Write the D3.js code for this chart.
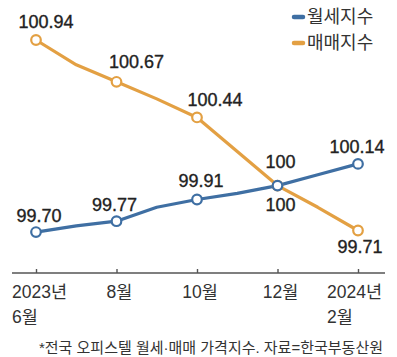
<!DOCTYPE html>
<html><head><meta charset="utf-8">
<script src="https://cdn.jsdelivr.net/npm/d3@7"></script>
<style>
body{margin:0;background:#fff;}
svg{display:block;}
text{font-family:"Liberation Sans","Noto Sans CJK KR",sans-serif;}
</style></head>
<body>
<svg id="c" width="397" height="357"></svg>
<script>
// ---- data ----
const months = ["2023-06","2023-07","2023-08","2023-09","2023-10","2023-11","2023-12","2024-01","2024-02"];
const rentIndex = [99.70, 99.74, 99.77, 99.86, 99.91, 99.95, 100.00, 100.07, 100.14];
const saleIndex = [100.94, 100.78, 100.67, 100.56, 100.44, 100.22, 100.00, 99.86, 99.71];
const seriesNames = ["월세지수", "매매지수"];
const tickMonths = ["2023-06","2023-08","2023-10","2023-12","2024-02"];
const tickLine1 = ["2023년","8월","10월","12월","2024년"];
const tickLine2 = ["6월","","","","2월"];
const rentLabels = ["99.70","99.77","99.91","100","100.14"];
const saleLabels = ["100.94","100.67","100.44","100","99.71"];
const note = "*전국 오피스텔 월세·매매 가격지수. 자료=한국부동산원";

// ---- layout ----
const colors = ["#3f6fa3", "#e3a043"];
const svg = d3.select("#c");
const x = d3.scalePoint().domain(months).range([36, 358]);
const y = d3.scaleLinear().domain([99.71, 100.94]).range([230.5, 40]);
const labelFont = "18px";
// label offsets (dx, dy) for each marked point
const rentOff = [[3,-16],[-2,-16],[4,-19],[3,-24],[-1,-17]];
const saleOff = [[10,-18],[20,-20],[18,-17],[3,19],[2,16]];

const line = d3.line().x((d,i)=>x(months[i])).y(d=>y(d));
const series = [rentIndex, saleIndex];
const labelsAll = [rentLabels, saleLabels];
const offAll = [rentOff, saleOff];

// draw orange first then blue on top? Reference: blue appears over orange at crossing
[1,0].forEach(s=>{
  svg.append("path").datum(series[s]).attr("d", line)
    .attr("fill","none").attr("stroke",colors[s]).attr("stroke-width",3.2)
    .attr("stroke-linejoin","round").attr("stroke-linecap","round");
});
[1,0].forEach(s=>{
  tickMonths.forEach((m,k)=>{
    const i = months.indexOf(m);
    svg.append("circle").attr("cx",x(m)).attr("cy",y(series[s][i])).attr("r",4.8)
      .attr("fill","#fff").attr("stroke",colors[s]).attr("stroke-width",2.2);
  });
});
// labels
[0,1].forEach(s=>{
  tickMonths.forEach((m,k)=>{
    const i = months.indexOf(m);
    svg.append("text").attr("x",x(m)+offAll[s][k][0]).attr("y",y(series[s][i])+offAll[s][k][1])
      .attr("text-anchor","middle").attr("dominant-baseline","central")
      .attr("font-size",labelFont).attr("fill","#222").attr("stroke","#222").attr("stroke-width",0.35)
      .text(labelsAll[s][k]);
  });
});

// axis
const axisY = 273;
svg.append("line").attr("x1",12).attr("x2",385).attr("y1",axisY).attr("y2",axisY)
  .attr("stroke","#555").attr("stroke-width",1.6);
const ax = svg.append("g").attr("transform",`translate(0,${axisY})`)
  .call(d3.axisBottom(x).tickValues(tickMonths).tickSize(-4).tickFormat(""));
ax.select(".domain").remove();
ax.selectAll(".tick line").attr("stroke","#555").attr("stroke-width",1.4);

const tickFont = "17.5px";
tickMonths.forEach((m,k)=>{
  const tx = x(m);
  if (k===0){
    svg.append("text").attr("x",tx-24).attr("y",292).attr("dominant-baseline","central")
      .attr("font-size",tickFont).attr("fill","#333").text(tickLine1[k]);
    svg.append("text").attr("x",tx-24).attr("y",317).attr("dominant-baseline","central")
      .attr("font-size",tickFont).attr("fill","#333").text(tickLine2[k]);
  } else if (k===tickMonths.length-1){
    const t = svg.append("text").attr("x",tx+24).attr("y",292).attr("text-anchor","end")
      .attr("dominant-baseline","central").attr("font-size",tickFont).attr("fill","#333").text(tickLine1[k]);
    const w = t.node().getComputedTextLength();
    svg.append("text").attr("x",tx+24-w).attr("y",317).attr("dominant-baseline","central")
      .attr("font-size",tickFont).attr("fill","#333").text(tickLine2[k]);
  } else {
    svg.append("text").attr("x",tx+3).attr("y",292).attr("text-anchor","middle")
      .attr("dominant-baseline","central").attr("font-size",tickFont).attr("fill","#333").text(tickLine1[k]);
  }
});

// legend
seriesNames.forEach((n,i)=>{
  const ly = 17 + i*26;
  svg.append("line").attr("x1",294).attr("x2",303).attr("y1",ly).attr("y2",ly)
    .attr("stroke",colors[i]).attr("stroke-width",4.5).attr("stroke-linecap","round");
  svg.append("text").attr("x",307).attr("y",ly).attr("dominant-baseline","central")
    .attr("font-size","18px").attr("fill","#333").text(n);
});

// note
svg.append("text").attr("x",383).attr("y",347).attr("text-anchor","end").attr("dominant-baseline","central")
  .attr("font-size","15px").attr("fill","#333").text(note);
</script>
</body></html>
